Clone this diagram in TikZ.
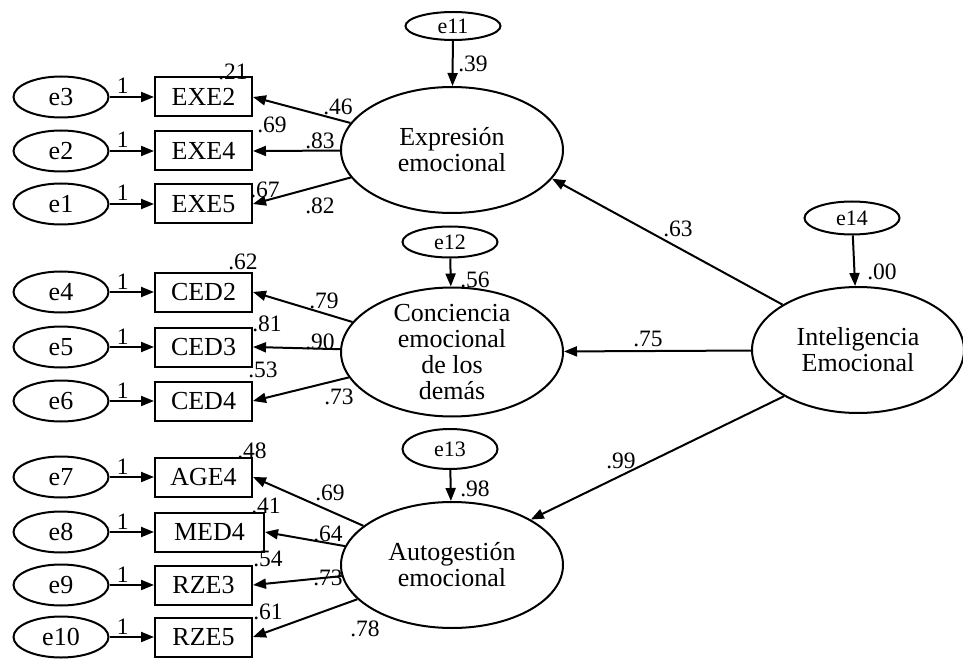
\documentclass[tikz,border=0pt]{standalone}
\usepackage{fontspec}
\setmainfont{Liberation Serif}
\usetikzlibrary{shapes.geometric,arrows.meta}

\begin{document}
\begin{tikzpicture}[x=1pt,y=-1pt,
    every node/.style={font=\fontsize{26}{26}\selectfont},
    err/.style={draw,ellipse,line width=2pt,minimum width=95pt,minimum height=41pt,inner sep=0pt},
    perturb/.style={err,minimum height=31pt,font=\fontsize{22}{22}\selectfont},
    obs/.style={draw,line width=2pt,minimum height=39pt,inner sep=0pt,anchor=west},
    lat/.style={draw,ellipse,line width=2pt,minimum width=222pt,minimum height=126pt,inner sep=0pt,align=center},
    fleche/.style={line width=2pt,-{Triangle[length=13pt,width=10pt]}},
    val/.style={font=\fontsize{23.5}{24}\selectfont,inner sep=0pt}]
    \pgfmathsetmacro{\xerr}{61}     % centre des erreurs
    \pgfmathsetmacro{\xobs}{154}    % bord gauche des indicateurs
    \pgfmathsetmacro{\xlat}{452}    % centre des facteurs

    \useasboundingbox (0,0) rectangle (963,660);

    % Facteurs latents
    \node[lat] (expr) at (\xlat,150) {Expresión\\emocional};
    \node[lat,minimum height=129pt,inner ysep=-18pt] (conc) at (\xlat,352) {Conciencia\\emocional\\de los\\demás};
    \node[lat] (auto) at (\xlat,565) {Autogestión\\emocional};
    \node[lat,minimum width=212pt] (ie) at (858,350) {Inteligencia\\Emocional};

    % Perturbations
    \node[perturb,minimum height=28pt] (e11) at (453,26) {e11};
    \node[perturb] (e12) at (450,242) {e12};
    \node[perturb,minimum height=40pt] (e13) at (450,449) {e13};
    \node[perturb,minimum height=33pt] (e14) at (852,218) {e14};
    \draw[fleche] (e11) -- (expr);
    \draw[fleche] (e12) -- (conc);
    \draw[fleche] (e13) -- (auto);
    \draw[fleche] (e14) -- (ie);
    \foreach \nom/\x/\y/\v in {e11/473/64/.39, e12/475/280/.56, e13/475/489/.98, e14/882/272/.00}
        \node[val] (r\nom) at (\x,\y) {\v};

    % Chemins structurels
    \draw[fleche] (ie.149) -- (expr.-16);
    \draw[fleche] (ie) -- (conc);
    \draw[fleche] (ie.212) -- (auto.30);
    \node[val] (lexpr) at (678,229) {.63};
    \node[val] (lconc) at (648,339) {.75};
    \node[val] (lauto) at (621,461) {.99};

    % Indicateurs et erreurs
    \foreach \nom/\err/\y/\larg in {EXE2/e3/97/97pt, EXE4/e2/151/97pt, EXE5/e1/204/97pt,
        CED2/e4/292/97pt, CED3/e5/347/97pt, CED4/e6/401/97pt,
        AGE4/e7/477/97pt, MED4/e8/532/109pt, RZE3/e9/585/97pt, RZE5/e10/637/97pt}{
        \node[obs,minimum width=\larg] (\nom) at (\xobs,\y) {\nom};
        \node[err] (\err) at (\xerr,\y) {\err};
        \draw[fleche] (\err) -- node[val,above=2pt,pos=0.3] (un\err) {1} (\nom);
    }

    % R2 des indicateurs
    \foreach \nom/\x/\y/\v in {EXE2/233/72/.21, EXE4/272/125/.69, EXE5/265/190/.67,
        CED2/243/262/.62, CED3/267/324/.81, CED4/263/370/.53,
        AGE4/252/451/.48, MED4/266/506/.41, RZE3/268/559/.54, RZE5/268/612/.61}
        \node[val] (r\nom) at (\x,\y) {\v};

    % Saturations
    \foreach \fac/\nom/\x/\y/\v in {expr/EXE2/338/107/.46, expr/EXE4/320/141/.83, expr/EXE5/320/206/.82,
        conc/CED2/324/301/.79, conc/CED3/320/342/.90, conc/CED4/339/397/.73,
        auto/AGE4/330/493/.69, auto/MED4/328/534/.64, auto/RZE3/328/578/.73, auto/RZE5/365/629/.78}{
        \draw[fleche] (\fac) -- (\nom.east);
        \node[val] (l\nom) at (\x,\y) {\v};
    }
\end{tikzpicture}
\end{document}
